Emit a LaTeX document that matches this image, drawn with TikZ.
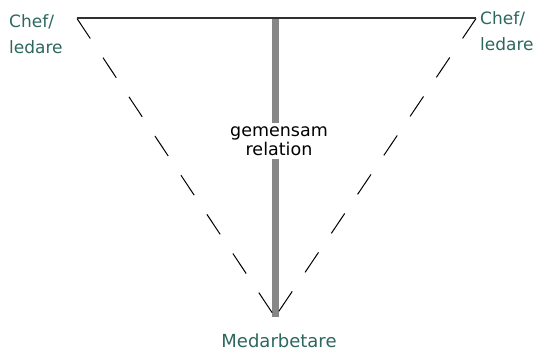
\documentclass[tikz,border=0pt]{standalone}
\usepackage{fontspec}
\newfontfamily\lblfont{DejaVu Sans}
\definecolor{lblteal}{HTML}{2D675E}
\definecolor{bargray}{HTML}{878787}
\definecolor{topline}{HTML}{303030}
\begin{document}
\begin{tikzpicture}[x=1pt,y=-1pt,
  role/.style={text=lblteal,inner sep=0pt,font=\lblfont\fontsize{17}{26}\selectfont},
  relbox/.style={fill=white,inner xsep=2pt,inner ysep=3pt,align=center,font=\lblfont\fontsize{17.5}{19}\selectfont},
  sideline/.style={black,line width=1pt,dash pattern=on 24pt off 23pt},
  mainline/.style={topline,line width=2pt},
  relbar/.style={bargray,line width=7pt}]
\useasboundingbox (0,0) rectangle (537,353);
\coordinate (A) at (77,18.5);
\coordinate (B) at (476,18.5);
\coordinate (T) at (275,18.5);
\coordinate (C) at (275,317);
\draw[relbar] (T) -- (C);
\draw[sideline] (A) -- (C);
\draw[sideline] (B) -- (C);
\draw[mainline] (A) -- (B);
\node[relbox] (rel) at (279,141) {gemensam\\relation};
\node[role,align=left,anchor=north west] (chefL) at (9,14) {Chef/\\ledare};
\node[role,align=left,anchor=north west] (chefR) at (480,11) {Chef/\\ledare};
\node[role,anchor=north,font=\lblfont\fontsize{18}{26}\selectfont] (med) at (279,334) {Medarbetare};
\end{tikzpicture}
\end{document}
